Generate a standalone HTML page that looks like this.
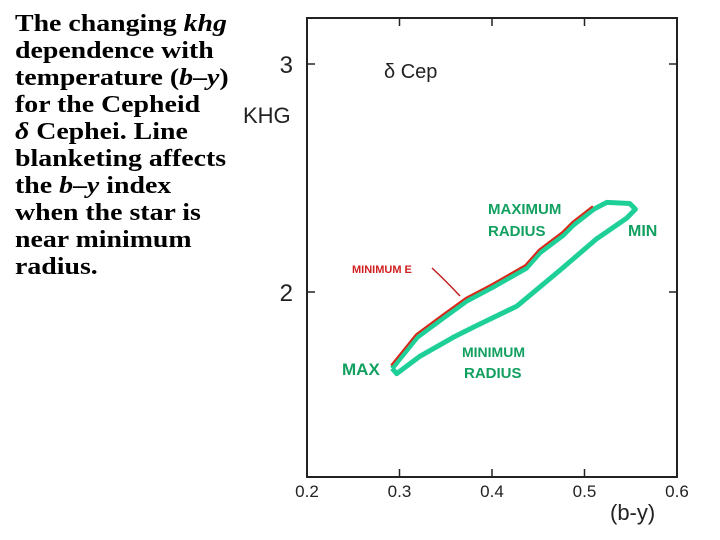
<!DOCTYPE html>
<html><head><meta charset="utf-8"><style>
body{margin:0;width:720px;height:540px;background:#fff;overflow:hidden;position:relative}
#cap{position:absolute;left:15px;top:11px;font:bold 24px/27px "Liberation Serif",serif;color:#000;margin:0;transform:scaleX(1.16);transform-origin:0 0;white-space:nowrap}
svg{position:absolute;left:0;top:0}
.hw{font-family:"Liberation Sans",sans-serif}
</style></head><body>
<div id="cap">The changing <i>khg</i><br>dependence with<br>temperature (<i>b</i>–<i>y</i>)<br>for the Cepheid<br><i>δ</i> Cephei. Line<br>blanketing affects<br>the <i>b</i>–<i>y</i> index<br>when the star is<br>near minimum<br>radius.</div>
<svg width="720" height="540" id="chart"></svg>
<script>
const xTicks=[0.2,0.3,0.4,0.5,0.6];
const xTickLabels=["0.2","0.3","0.4","0.5","0.6"];
const yTicks=[2,3];
const yTickLabels=["2","3"];
const loopBY=[0.292,0.319,0.347,0.373,0.401,0.437,0.452,0.477,0.488,0.510,0.524,0.549,0.555,0.546,0.513,0.474,0.427,0.380,0.358,0.322,0.297,0.292];
const loopKHG=[1.665,1.801,1.885,1.961,2.021,2.104,2.173,2.249,2.294,2.363,2.393,2.388,2.363,2.325,2.233,2.097,1.938,1.846,1.801,1.718,1.642,1.665];
const redBY=[0.292,0.319,0.347,0.373,0.401,0.437,0.452,0.477,0.488,0.510];
const redKHG=[1.665,1.801,1.885,1.961,2.021,2.104,2.173,2.249,2.294,2.363];
const X=v=>307+(v-0.2)*925;
const Y=v=>292-(v-2)*228;
const NS="http://www.w3.org/2000/svg";
const svg=document.getElementById('chart');
function mk(t,a){const e=document.createElementNS(NS,t);for(const k in a)e.setAttribute(k,a[k]);svg.appendChild(e);return e;}
let e=mk('rect',{x:307,y:18,width:370,height:459,fill:'none',stroke:'#222','stroke-width':2});


xTicks.forEach((t,i)=>{
 let l=mk('line',{x1:X(t),x2:X(t),y1:477,y2:469,stroke:'#222','stroke-width':1.5});
 
 
 let l2=mk('line',{x1:X(t),x2:X(t),y1:18,y2:26,stroke:'#222','stroke-width':1.5});
 
 
 let tx=mk('text',{x:X(t),y:497,'text-anchor':'middle','font-size':17,fill:'#222',class:'hw'});tx.textContent=xTickLabels[i];
 
 
});
yTicks.forEach((t,i)=>{
 let l=mk('line',{x1:307,x2:315,y1:Y(t),y2:Y(t),stroke:'#222','stroke-width':1.5});
 
 
 let l2=mk('line',{x1:669,x2:677,y1:Y(t),y2:Y(t),stroke:'#222','stroke-width':1.5});
 
 
 let tx=mk('text',{x:293,y:Y(t)+9,'text-anchor':'end','font-size':24,fill:'#222',class:'hw'});tx.textContent=yTickLabels[i];
 
 
});
let yt=mk('text',{x:243,y:123,'font-size':22,fill:'#222',class:'hw'});yt.textContent='KHG';


let xt=mk('text',{x:610,y:520,'font-size':22,fill:'#222',class:'hw'});xt.textContent='(b-y)';


let ct=mk('text',{x:384,y:78,'font-size':20,fill:'#222',class:'hw'});ct.textContent='δ Cep';


const path=(xs,ys)=>xs.map((v,i)=>(i?'L':'M')+X(v).toFixed(1)+' '+Y(ys[i]).toFixed(1)).join(' ');
let loop=mk('path',{d:path(loopBY,loopKHG),fill:'none',stroke:'#1fcf98','stroke-width':5,'stroke-linejoin':'round'});


let red=mk('path',{d:path(redBY,redKHG),fill:'none',stroke:'#d9281a','stroke-width':2,transform:'translate(-1,-3)'});


let pl=mk('path',{d:'M432 268 Q445 280 460 296',fill:'none',stroke:'#c02020','stroke-width':1.5});


const labs=[['MAX',342,375,'#12a060',17],['MAXIMUM',488,214,'#12a060',15],['RADIUS',488,236,'#12a060',15],['MIN',628,236,'#12a060',16],['MINIMUM',462,357,'#12a060',14],['RADIUS',464,378,'#12a060',15],['MINIMUM E',352,273,'#d02020',11]];
labs.forEach(a=>{let t=mk('text',{x:a[1],y:a[2],'font-size':a[4],'font-weight':'bold',fill:a[3],class:'hw'});t.textContent=a[0];
 
 });
</script>
</body></html>
